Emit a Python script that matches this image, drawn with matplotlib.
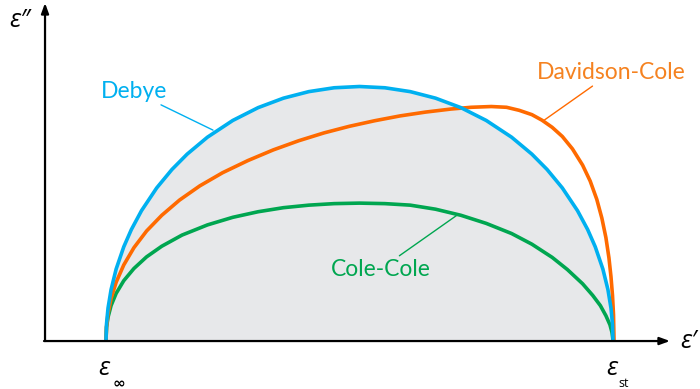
import matplotlib
matplotlib.use("Agg")
import matplotlib.pyplot as plt

# Complex permittivity plane, normalised so that eps_inf = 0 and eps_st = 1
# Debye semicircle
debye_x = [0, 0.001, 0.004, 0.01, 0.02, 0.035, 0.05, 0.07, 0.1, 0.13, 0.16, 0.2,
           0.25, 0.3, 0.35, 0.4, 0.45, 0.5, 0.55, 0.6, 0.65, 0.7, 0.75, 0.8, 0.84,
           0.87, 0.9, 0.93, 0.95, 0.965, 0.98, 0.99, 0.996, 0.999, 1.0]
debye_y = [0, 0.0316, 0.0631, 0.0995, 0.14, 0.1838, 0.2179, 0.2551, 0.3, 0.3363,
           0.3666, 0.4, 0.433, 0.4583, 0.477, 0.4899, 0.4975, 0.5, 0.4975, 0.4899,
           0.477, 0.4583, 0.433, 0.4, 0.3666, 0.3363, 0.3, 0.2551, 0.2179, 0.1838,
           0.14, 0.0995, 0.0631, 0.0316, 0]

# Davidson-Cole skewed arc
dc_x = [0, 0.001, 0.004, 0.01, 0.02, 0.035, 0.055, 0.08, 0.11, 0.145, 0.185,
        0.23, 0.28, 0.33, 0.38, 0.43, 0.48, 0.53, 0.58, 0.63, 0.68, 0.72, 0.76,
        0.79, 0.815, 0.84, 0.86, 0.88, 0.9, 0.92, 0.94, 0.955, 0.968, 0.978,
        0.986, 0.992, 0.996, 0.999, 1.001, 1.002]
dc_y = [0, 0.026, 0.052, 0.082, 0.114, 0.148, 0.182, 0.215, 0.246, 0.276, 0.304,
        0.330, 0.354, 0.375, 0.393, 0.4085, 0.4215, 0.4325, 0.442, 0.4495,
        0.4555, 0.459, 0.4605, 0.459, 0.453, 0.4445, 0.4335, 0.4195, 0.4015,
        0.377, 0.345, 0.3135, 0.2775, 0.2405, 0.202, 0.162, 0.125, 0.088, 0.05, 0]

# Cole-Cole depressed arc
cc_x = [0, 0.001, 0.004, 0.01, 0.02, 0.035, 0.055, 0.08, 0.11, 0.15, 0.2, 0.25,
        0.3, 0.35, 0.4, 0.45, 0.5, 0.55, 0.6, 0.65, 0.7, 0.75, 0.8, 0.84, 0.88,
        0.91, 0.94, 0.96, 0.975, 0.986, 0.994, 0.998, 1.0]
cc_y = [0, 0.025, 0.045, 0.068, 0.092, 0.117, 0.141, 0.164, 0.185, 0.207, 0.227,
        0.242, 0.253, 0.261, 0.266, 0.269, 0.270, 0.269, 0.266, 0.258, 0.246,
        0.230, 0.210, 0.189, 0.163, 0.139, 0.111, 0.088, 0.068, 0.048, 0.030,
        0.015, 0]

series_names = ["Debye", "Davidson-Cole", "Cole-Cole"]

BLUE = "#00B0F0"
ORANGE = "#FF6A00"
ORANGE_TXT = "#F58220"
GREEN = "#00A650"
FILL = "#E7E8EA"

fig = plt.figure(figsize=(7.0, 3.89), dpi=100)
ax = fig.add_axes([0, 0, 1, 1])
ax.set_xlim(-0.2091, 1.1716)
ax.set_ylim(-0.0966, 0.6706)
ax.axis("off")

curve = dict(lw=2.6, solid_capstyle="butt", solid_joinstyle="round")
ax.fill_between(debye_x, debye_y, 0, color=FILL, lw=0, zorder=1)
ax.plot(cc_x, cc_y, color=GREEN, zorder=3, **curve)
ax.plot(dc_x, dc_y, color=ORANGE, zorder=4, **curve)
ax.plot(debye_x, debye_y, color=BLUE, zorder=5, **curve)

# coordinate axes with arrow heads
x0, xend = -0.1203, 1.1124
y0, yend = -0.002, 0.6647
arrow = dict(arrowstyle="-|>,head_length=0.6,head_width=0.22", color="black",
             lw=1.6, shrinkA=0, shrinkB=0)
ax.annotate("", xy=(x0, yend), xytext=(x0, y0), arrowprops=arrow, zorder=6)
ax.annotate("", xy=(xend, y0), xytext=(x0 - 0.002, y0), arrowprops=arrow, zorder=6)

sym = "Open Sans"
ax.text(-0.170, 0.617, "ε″", fontsize=18, style="italic", family=sym,
        ha="center", va="baseline")
ax.text(1.150, -0.016, "ε′", fontsize=18, style="italic", family=sym,
        ha="center", va="baseline")
ax.text(-0.004, -0.069, "ε", fontsize=18, style="italic", family=sym,
        ha="center", va="baseline")
ax.text(0.026, -0.0935, "∞", fontsize=11, weight="bold", family="DejaVu Sans",
        ha="center", va="baseline")
ax.text(0.998, -0.069, "ε", fontsize=18, style="italic", family=sym,
        ha="center", va="baseline")
ax.text(1.020, -0.0925, "st", fontsize=9, family=sym, ha="center", va="baseline")

font = "Lato"
leader = dict(arrowstyle="-", lw=1.0, shrinkA=0, shrinkB=0)
ax.annotate(series_names[0], xy=(0.211, 0.414), xytext=(0.12, 0.49),
            color=BLUE, fontsize=16.5, family=font, ha="right", va="center",
            arrowprops=dict(leader, color=BLUE), zorder=7)
ax.annotate(series_names[1], xy=(0.862, 0.432), xytext=(0.85, 0.527),
            color=ORANGE_TXT, fontsize=16.5, family=font, ha="left", va="center",
            arrowprops=dict(leader, color=ORANGE), zorder=7)
ax.annotate(series_names[2], xy=(0.692, 0.246), xytext=(0.64, 0.14),
            color=GREEN, fontsize=16.5, family=font, ha="right", va="center",
            arrowprops=dict(leader, color=GREEN), zorder=7)

fig.savefig("out.png", dpi=100)
